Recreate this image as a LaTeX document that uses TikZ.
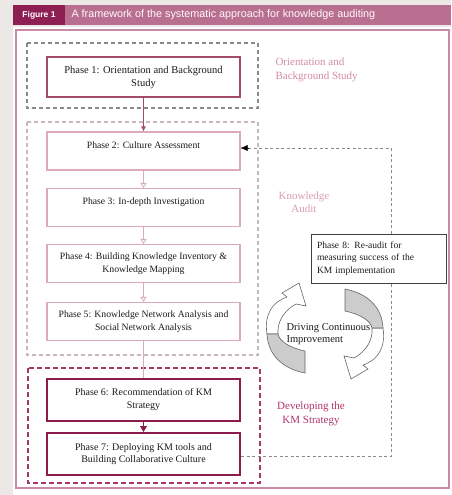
\documentclass[tikz,border=0pt]{standalone}
\usepackage{fontspec}
\setmainfont{Liberation Serif}
\newfontfamily\titlefont{Liberation Sans}
\usetikzlibrary{arrows.meta,calc}
\definecolor{framepink}{HTML}{C98AA5}
\definecolor{barpink}{HTML}{B96F90}
\definecolor{bardark}{HTML}{8E1F52}
\definecolor{roseline}{HTML}{A44A6C}
\definecolor{lightrose}{HTML}{DDA9BD}
\definecolor{deepmag}{HTML}{8C1C4C}
\definecolor{labelpink}{HTML}{D58BA8}
\definecolor{labelmag}{HTML}{B0336B}
\definecolor{dashgray}{HTML}{8A8A8A}
\definecolor{auditgray}{HTML}{C8B8BE}
\definecolor{devmag}{HTML}{A8386A}
\definecolor{bgcol}{HTML}{ECE8E6}
\definecolor{txt}{HTML}{1A1A1A}
\begin{document}
\begin{tikzpicture}[x=1pt,y=-1pt,
  boxtext/.style={font=\fontsize{9.7}{12.5}\selectfont, text=txt, align=center},
  phaseone/.style={draw=roseline, line width=1.5pt, fill=white, minimum width=193pt, minimum height=40pt, boxtext, font=\fontsize{10.5}{13}\selectfont},
  phasemid/.style={draw=lightrose, line width=1.1pt, fill=white, minimum width=193pt, minimum height=38pt, boxtext},
  phasedev/.style={draw=deepmag, line width=2pt, fill=white, minimum width=193pt, minimum height=42pt, boxtext, font=\fontsize{10}{12.5}\selectfont},
  sidelabel/.style={font=\fontsize{11}{13.5}\selectfont},
  smallarrow/.style={draw=lightrose, line width=0.8pt, -{Triangle[open, length=5pt, width=6pt]}},
  feedback/.style={draw=dashgray, line width=0.8pt, dash pattern=on 3pt off 2.5pt},
  ribbon/.style={draw=gray!80!black, line width=0.6pt}
]
\useasboundingbox (0,0) rectangle (451,495);
\fill[bgcol] (0,0) rectangle (451,495);
\fill[white] (13,27) rectangle (451,495);
% title bar
\fill[barpink] (13,5) rectangle (451,25);
\fill[bardark] (13,5) rectangle (65,25);
\node[font=\titlefont\bfseries\fontsize{8.5}{10}\selectfont, text=white] (fig) at (39,15) {Figure 1};
\node[anchor=west, font=\titlefont\fontsize{10.8}{12}\selectfont, text=white!92!pink] (title) at (68,15) {A framework of the systematic approach for knowledge auditing};
% outer frame
\draw[framepink, line width=1.5pt] (16,30) rectangle (449,488);
% stage regions
\draw[dashgray, line width=1.2pt, dash pattern=on 4pt off 3pt] (27,43) rectangle (258,108);
\draw[auditgray, line width=1.2pt, dash pattern=on 4pt off 3pt] (27,122) rectangle (258,355);
\draw[devmag, line width=2pt, dash pattern=on 5pt off 3pt] (28,368) rectangle (260,483);
% phase boxes
\node[phaseone] (p1) at (143.5,77) {Phase 1: Orientation and Background\\Study};
\node[phasemid] (p2) at (143.5,151) {Phase 2: Culture Assessment\\\mbox{}};
\node[phasemid] (p3) at (143.5,207.5) {Phase 3: In-depth Investigation\\\mbox{}};
\node[phasemid] (p4) at (143.5,263.5) {Phase 4: Building Knowledge Inventory \&\\Knowledge Mapping};
\node[phasemid] (p5) at (143.5,321.5) {Phase 5: Knowledge Network Analysis and\\Social Network Analysis};
\node[phasedev] (p6) at (143.5,399.5) {Phase 6: Recommendation of KM\\Strategy};
\node[phasedev] (p7) at (143.5,454) {Phase 7: Deploying KM tools and\\Building Collaborative Culture};
\node[draw=black!75, line width=1pt, fill=white, minimum width=135pt, minimum height=49pt, text width=123pt, align=left, font=\fontsize{9.5}{12.5}\selectfont, text=txt] (p8) at (378.5,258.5) {Phase 8: Re-audit for\\measuring success of the\\KM implementation};
% side labels
\node[sidelabel, text=labelpink, align=left, anchor=west] (lab1) at (272,70) {Orientation and\\Background Study};
\node[sidelabel, text=labelpink!85!white, align=center] (lab2) at (304,202) {Knowledge\\Audit};
\node[sidelabel, text=labelmag, align=center] (lab3) at (311,414) {Developing the\\KM Strategy};
% flow connectors
\draw[roseline, line width=0.8pt, -{Latex[length=5pt, width=5pt]}] (p1.south) -- (p2.north);
\draw[smallarrow] (p2.south) -- (p3.north);
\draw[smallarrow] (p3.south) -- (p4.north);
\draw[smallarrow] (p4.south) -- (p5.north);
\draw[lightrose, line width=0.8pt] (p5.south) -- (p6.north);
\draw[deepmag, line width=1pt, -{Triangle[length=6pt, width=7pt]}] (p6.south) -- (p7.north);
% feedback loop
\coordinate (fbtop) at (391,148);
\coordinate (fbbot) at (391,456);
\draw[feedback] (p8.north -| fbtop) -- (fbtop) -- (fbtop -| p2.east);
\draw[black, -{Latex[length=7pt, width=6pt]}] ($(fbtop -| p2.east)+(8,0)$) -- (fbtop -| p2.east);
\draw[feedback] (p7.east |- fbbot) -- (fbbot) -- (p8.south -| fbbot);
% cycle arrows
\begin{scope}[shift={(325,331)}]
  \foreach \r in {0,180}{
    \begin{scope}[rotate=\r]
      \draw[ribbon, fill=white] (-58,3) .. controls (-61,-16) and (-53,-29) .. (-38,-34)
        -- (-43,-38) -- (-26,-48) -- (-19,-25) -- (-29,-27)
        .. controls (-42,-20) and (-48,-8) .. (-47,3) -- cycle;
      \draw[ribbon, fill=gray!40] (-58,3) .. controls (-57,25) and (-41,38) .. (-20,42)
        -- (-20,20) .. controls (-35,17) and (-46,10) .. (-47,3) -- cycle;
    \end{scope}
  }
\end{scope}
\node[font=\fontsize{10.5}{12}\selectfont, text=txt, align=left, anchor=west] (cyc) at (283,334) {Driving Continuous\\Improvement};
\end{tikzpicture}
\end{document}
